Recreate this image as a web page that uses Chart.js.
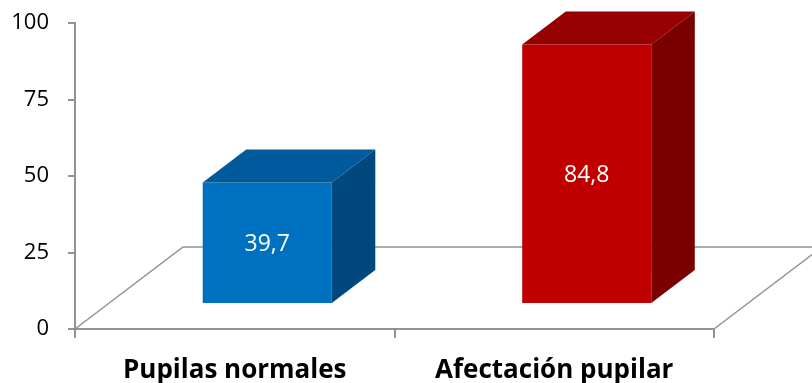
<!DOCTYPE html>
<html>
<head>
<meta charset="utf-8">
<script src="https://cdn.jsdelivr.net/npm/chart.js@4"></script>
<style>
  html, body { margin: 0; padding: 0; background: #fff; }
  #wrap { width: 812px; height: 383px; }
</style>
</head>
<body>
<div id="wrap"><canvas id="myChart"></canvas></div>
<script>
const categories = ["Pupilas normales", "Afectación pupilar"];
const values = [39.7, 84.8];
const frontColors = ["#0070C0", "#C00000"];
const topColors = ["#005A9C", "#960000"];
const sideColors = ["#00487E", "#7A0000"];
const yTicks = [0, 25, 50, 75, 100];

const FONT = "'Open Sans', 'Liberation Sans', sans-serif";
const AXIS_GREY = "#929292";

// 3d look: floor depth and bar depth in px
const FLOOR_DX = 108, FLOOR_DY = -82;
const BAR_DX = 43.5, BAR_DY = -33;
const SHIFT_X = 32.5, SHIFT_Y = -25; // bars sit a bit back on the floor

const floorPlugin = {
  id: "floor",
  beforeDatasetsDraw(chart) {
    const { ctx, chartArea: a } = chart;
    ctx.save();
    ctx.strokeStyle = AXIS_GREY;
    ctx.lineWidth = 1.5;
    ctx.beginPath();
    ctx.moveTo(a.left, a.bottom);
    ctx.lineTo(a.left + FLOOR_DX, a.bottom + FLOOR_DY);
    ctx.lineTo(a.right + FLOOR_DX + 20, a.bottom + FLOOR_DY);
    ctx.moveTo(a.right, a.bottom);
    ctx.lineTo(a.right + FLOOR_DX, a.bottom + FLOOR_DY);
    ctx.stroke();
    ctx.restore();
    // shift bar drawing back into the floor
    ctx.save();
    ctx.translate(SHIFT_X, SHIFT_Y);
  },
  afterDatasetsDraw(chart) {
    const { ctx } = chart;
    const meta = chart.getDatasetMeta(0);
    meta.data.forEach((bar, i) => {
      const x0 = bar.x - bar.width / 2;
      const x1 = bar.x + bar.width / 2;
      const yTop = bar.y, yBot = bar.base;
      // top face
      ctx.fillStyle = topColors[i];
      ctx.beginPath();
      ctx.moveTo(x0, yTop);
      ctx.lineTo(x0 + BAR_DX, yTop + BAR_DY);
      ctx.lineTo(x1 + BAR_DX, yTop + BAR_DY);
      ctx.lineTo(x1, yTop);
      ctx.closePath();
      ctx.fill();
      // side face
      ctx.fillStyle = sideColors[i];
      ctx.beginPath();
      ctx.moveTo(x1, yTop);
      ctx.lineTo(x1 + BAR_DX, yTop + BAR_DY);
      ctx.lineTo(x1 + BAR_DX, yBot + BAR_DY);
      ctx.lineTo(x1, yBot);
      ctx.closePath();
      ctx.fill();
      // value label
      ctx.fillStyle = "#ffffff";
      ctx.font = "23px " + FONT;
      ctx.textAlign = "center";
      ctx.textBaseline = "middle";
      ctx.fillText(String(values[i]).replace(".", ","), bar.x, (yTop + yBot) / 2 + 2);
    });
    ctx.restore();
  },
};

new Chart(document.getElementById("myChart"), {
  type: "bar",
  data: {
    labels: categories,
    datasets: [{
      data: values,
      backgroundColor: frontColors,
      borderWidth: 0,
      categoryPercentage: 1,
      barPercentage: 0.404,
    }],
  },
  options: {
    responsive: true,
    maintainAspectRatio: false,
    animation: false,
    layout: { padding: { left: 0, right: 98, top: 23, bottom: 0 } },
    plugins: {
      legend: { display: false },
      tooltip: { enabled: false },
    },
    scales: {
      x: {
        afterFit(scale) { scale.height = 54; },
        grid: {
          drawOnChartArea: false,
          drawTicks: true,
          tickLength: 9,
          color: AXIS_GREY,
          lineWidth: 2,
        },
        border: { display: true, color: AXIS_GREY, width: 2 },
        ticks: {
          color: "#000",
          padding: 17,
          font: { family: FONT, size: 26, weight: "bold" },
        },
      },
      y: {
        min: 0,
        max: 100,
        afterFit(scale) {
          scale.width = 75;
          scale.paddingTop = 0;
          scale.paddingBottom = 0;
        },
        afterBuildTicks(scale) {
          scale.ticks = yTicks.map((v) => ({ value: v }));
        },
        grid: {
          drawOnChartArea: false,
          drawTicks: true,
          tickLength: 7,
          color: AXIS_GREY,
          lineWidth: 2,
        },
        border: { display: true, color: AXIS_GREY, width: 2 },
        ticks: {
          color: "#000",
          padding: 19,
          font: { family: FONT, size: 22 },
        },
      },
    },
  },
  plugins: [floorPlugin],
});
</script>
</body>
</html>
